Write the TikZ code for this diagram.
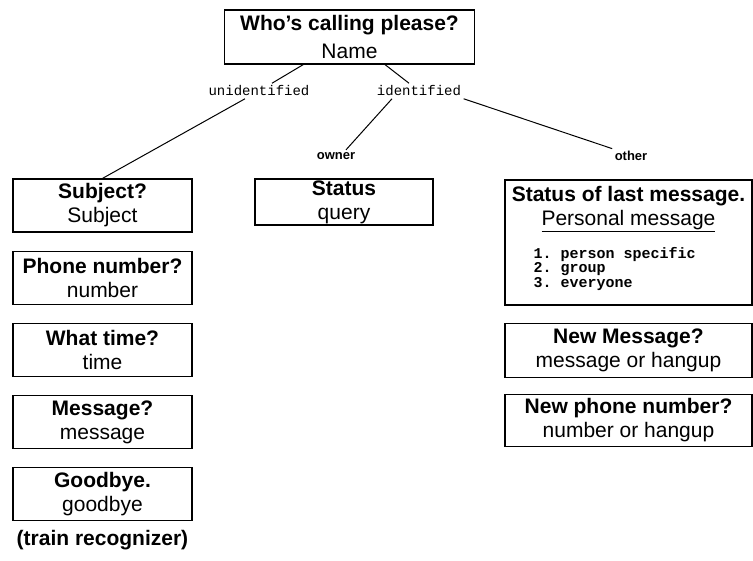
\documentclass[tikz,border=0pt]{standalone}
\usepackage{fontspec}
\setmainfont{Liberation Sans}
\newfontfamily\labelmono{Liberation Mono}
\usetikzlibrary{positioning}
\frenchspacing

\begin{document}
\begin{tikzpicture}[x=1pt, y=-1pt, line width=1.2pt,
    font=\fontsize{21}{24}\selectfont, node distance=18pt,
    qbox/.style={draw, minimum width=179pt, minimum height=53pt,
                 align=center, inner sep=0pt},
    wbox/.style={qbox, minimum width=247pt},
    branch/.style={font=\labelmono\fontsize{14}{16}\selectfont, inner sep=2pt},
    speaker/.style={font=\bfseries\fontsize{13}{15}\selectfont, inner sep=2pt},
    choice/.style={font=\labelmono\bfseries\fontsize{15}{13}\selectfont,
                   align=left, inner sep=0pt}]
  \useasboundingbox (0,0) rectangle (753,561);

  \node[qbox, minimum width=250pt, minimum height=54pt,
        font=\fontsize{21}{28}\selectfont] (who) at (349.5,37)
    {\textbf{Who's calling please?}\\ Name};

  \node[branch] (unid) at (259,91) {unidentified};
  \node[branch] (ident) at (419,91) {identified};
  \node[speaker] (owner) at (336,156) {owner};
  \node[speaker] (other) at (631,156) {other};

  % caller not known
  \node[qbox] (subject) at (102.5,205.5) {\textbf{Subject?}\\ Subject};
  \node[qbox, below=of subject] (phone) {\textbf{Phone number?}\\ number};
  \node[qbox, below=of phone] (when) {\textbf{What time?}\\ time};
  \node[qbox, below=of when] (msg) {\textbf{Message?}\\ message};
  \node[qbox, below=of msg] (bye) {\textbf{Goodbye.}\\ goodbye};
  \node[font=\bfseries\fontsize{21}{24}\selectfont] (train) at (102.5,540)
    {(train recognizer)};

  % owner
  \node[qbox, minimum width=178pt, minimum height=46pt] (status) at (344,202)
    {\textbf{Status}\\ query};

  % somebody else
  \node[wbox, minimum height=125pt] (lastmsg) at (628.5,242.5) {};
  \node[align=center] (lasttitle) at (628.5,209)
    {\textbf{Status of last message.}\\ \underline{Personal message}};
  \node[choice, anchor=north west] (choices) at (533,247)
    {1. person specific\\ 2. group\\ 3. everyone};
  \node[wbox, minimum height=54pt, below=17pt of lastmsg] (newmsg)
    {\textbf{New Message?}\\ message or hangup};
  \node[wbox, minimum height=52pt, below=16pt of newmsg] (newphone)
    {\textbf{New phone number?}\\ number or hangup};

  \draw[line width=1pt] (who) -- (unid);
  \draw[line width=1pt] ([xshift=-14pt]unid.south) -- (subject.north);
  \draw[line width=1pt] (who) -- (ident);
  \draw[line width=1pt] ([xshift=-27pt]ident.south) -- ([xshift=10pt]owner.north);
  \draw[line width=1pt] (ident.south east) -- (other.north west);
\end{tikzpicture}
\end{document}
